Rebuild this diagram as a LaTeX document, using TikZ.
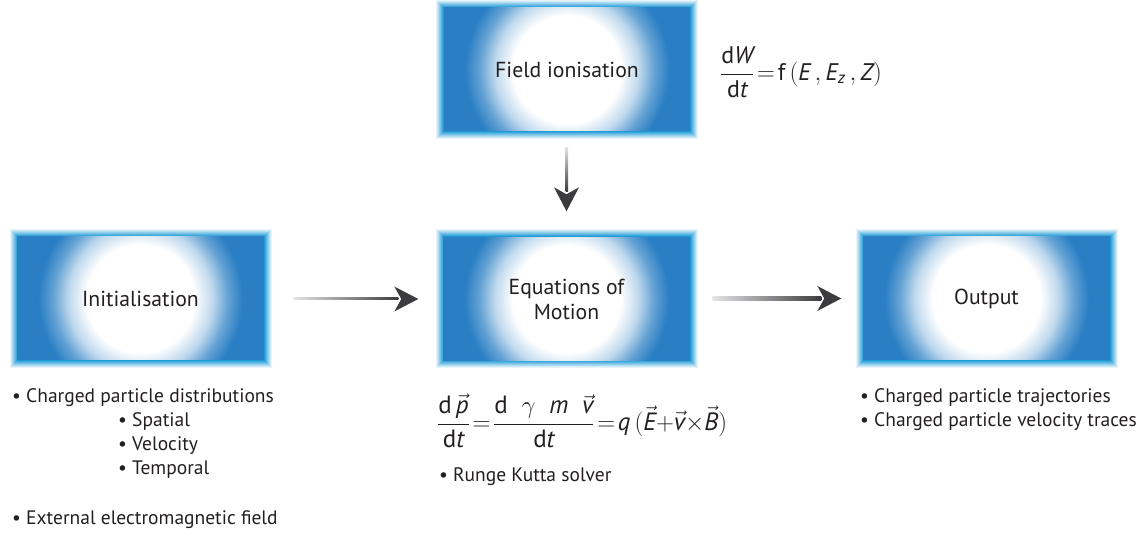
\documentclass[tikz,border=0pt]{standalone}
\usepackage{fontspec}
\setmainfont{PT Sans}
\usetikzlibrary{calc}
\definecolor{boxblue}{RGB}{42,127,196}
\definecolor{glowblue}{RGB}{10,145,210}
\definecolor{arrowdark}{RGB}{60,60,62}
\definecolor{arrowlight}{RGB}{228,228,230}
\definecolor{txt}{RGB}{35,31,32}
\colorlet{blueA}{boxblue!30!white}
\colorlet{blueB}{boxblue!72!white}
\pgfdeclareradialshading{glowshade}{\pgfpoint{0bp}{0bp}}{color(0bp)=(white); color(9bp)=(white); color(12bp)=(blueA); color(14.5bp)=(blueB); color(17bp)=(boxblue); color(50bp)=(boxblue)}
\newcommand{\glowbox}[3]{%
  \begin{scope}[shift={(#2)}]
    \foreach \i/\tint in {0/10,1/20,2/32,3/44,4/56,5/68,6/80,7/92}{%
      \fill[glowblue!\tint!white] (-131+\i,-69.5+\i) rectangle (131-\i,69.5-\i);}
    \begin{scope}
      \clip (-123,-61.5) rectangle (123,61.5);
      \fill[boxblue] (-123,-61.5) rectangle (123,61.5);
      \shade[shading=glowshade] (-150,-150) rectangle (150,150);
    \end{scope}
  \end{scope}
  \node[procbox] (#1) at (#2) {#3};%
}
\newcommand{\eqsign}{\mkern2mu{=}\mkern2mu}
\tikzset{
  procbox/.style={minimum width=262bp, minimum height=139bp, inner sep=0pt, align=center, text=txt, font=\fontsize{21.7bp}{25bp}\selectfont},
  note/.style={anchor=west, inner sep=0pt, text=txt, font=\fontsize{19.5bp}{23bp}\selectfont},
  eqn/.style={inner sep=0pt, text=txt, font=\fontsize{25bp}{29bp}\selectfont},
}
\begin{document}
\begin{tikzpicture}[x=1bp,y=1bp]
\useasboundingbox (0,0) rectangle (1148,-538);
\glowbox{fi}{567,-69.5}{Field ionisation}
\glowbox{init}{140.5,-298.5}{Initialisation}
\glowbox{eom}{566.5,-299}{Equations of\\Motion}
\glowbox{out}{986.5,-298.5}{Output}

% arrows
\coordinate (a1s) at ($(init.east)+(22,0)$);
\coordinate (a1t) at ($(eom.west)+(-17,0)$);
\shade[left color=arrowlight, right color=arrowdark] ($(a1s)+(0,-1.5)$) rectangle ($(a1t)+(-20,1.5)$);
\fill[arrowdark] (a1t) -- ++(-24,12.5) -- ++(7,-12.5) -- ++(-7,-12.5) -- cycle;

\coordinate (a2s) at ($(eom.east)+(15,0)$);
\coordinate (a2t) at ($(out.west)+(-14,0)$);
\shade[left color=arrowlight, right color=arrowdark] ($(a2s)+(0,-1.5)$) rectangle ($(a2t)+(-20,1.5)$);
\fill[arrowdark] (a2t) -- ++(-24,12.5) -- ++(7,-12.5) -- ++(-7,-12.5) -- cycle;

\coordinate (a3s) at ($(fi.south)+(0,-8)$);
\coordinate (a3t) at ($(eom.north)+(0,18)$);
\shade[top color=arrowlight, bottom color=arrowdark] ($(a3s)+(-1.5,0)$) rectangle ($(a3t)+(1.5,20)$);
\fill[arrowdark] (a3t) -- ++(12.5,24) -- ++(-12.5,-7) -- ++(-12.5,7) -- cycle;

% equations
\node[eqn, anchor=west, font=\fontsize{24bp}{28bp}\selectfont] (eqw) at (720,-72) {$\displaystyle\frac{\mathrm{d}\mathit{W}}{\mathrm{d}\mathit{t}}\eqsign\mathrm{f}\,\bigl(\mathit{E}\,{,}\,\mathit{E}_{\mathit{z}}\,{,}\,\mathit{Z}\bigr)$};
\node[eqn, anchor=west] (eqm) at (437,-421) {$\displaystyle\frac{\mathrm{d}\,\vec{\mathit{p}}}{\mathrm{d}\mathit{t}}\eqsign\frac{\mathrm{d}\;\;\gamma\;\;\mathit{m}\;\;\vec{\mathit{v}}}{\mathrm{d}\mathit{t}}\eqsign\mathit{q}\,\bigl(\vec{\mathit{E}}{+}\vec{\mathit{v}}{\times}\vec{\mathit{B}}\bigr)$};

% notes
\node[note] (n1) at (12,-398) {• Charged particle distributions};
\node[note] (n2) at (118,-422) {• Spatial};
\node[note] (n3) at (118,-446) {• Velocity};
\node[note] (n4) at (118,-470) {• Temporal};
\node[note] (n5) at (12,-520) {• External electromagnetic field};
\node[note] (n6) at (439,-477) {• Runge Kutta solver};
\node[note] (n7) at (860,-398) {• Charged particle trajectories};
\node[note] (n8) at (860,-422) {• Charged particle velocity traces};
\end{tikzpicture}
\end{document}
